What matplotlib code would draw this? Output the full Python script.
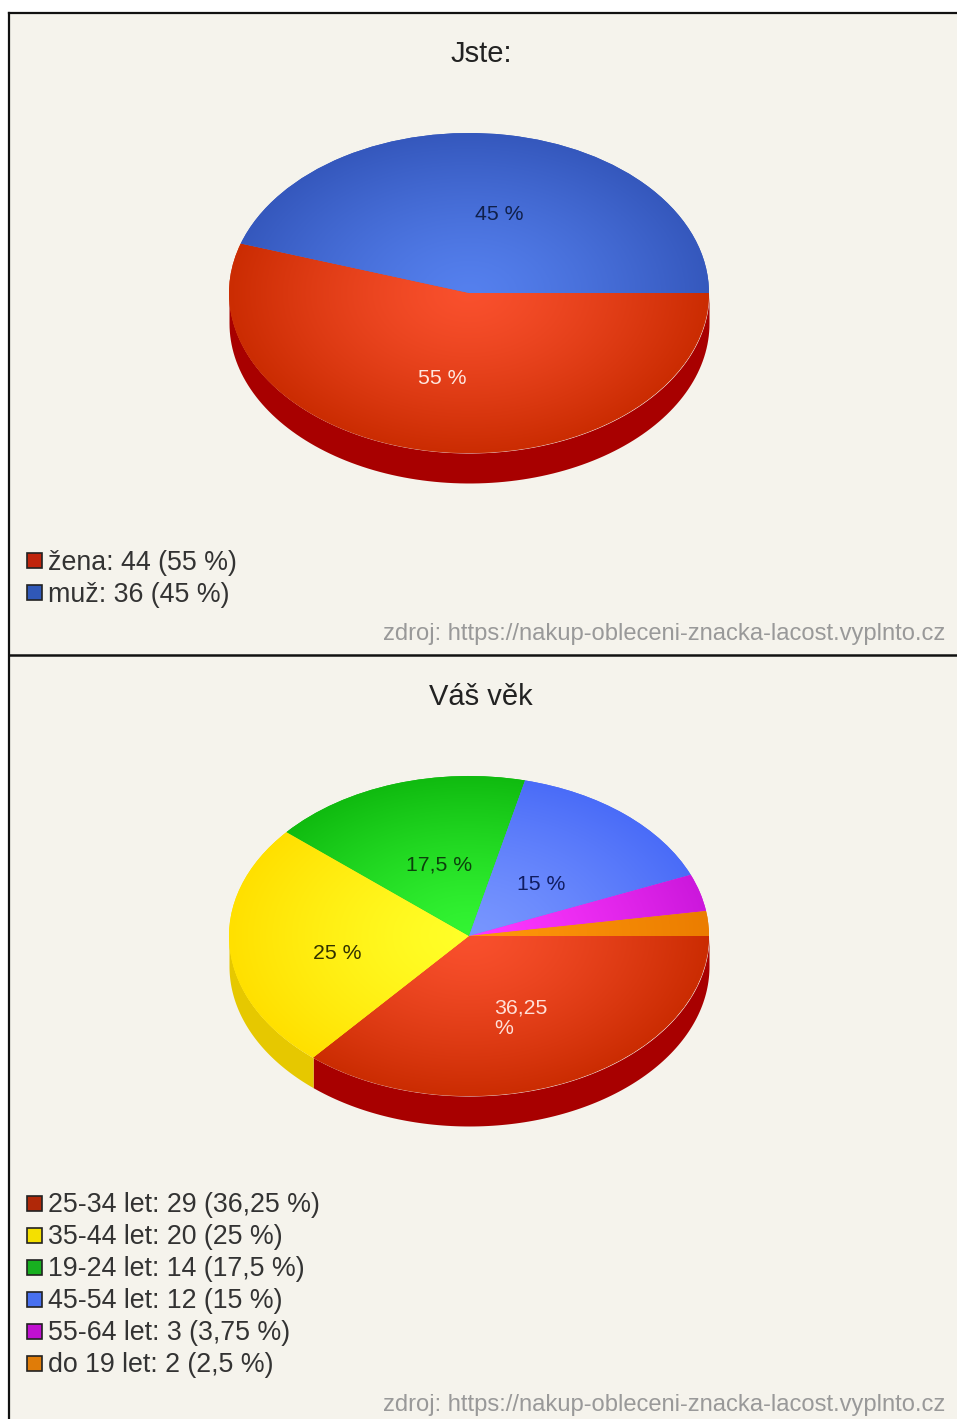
#!/usr/bin/env python3
# -*- coding: utf-8 -*-
import numpy as np
import matplotlib
matplotlib.use("Agg")
import matplotlib.pyplot as plt
from matplotlib.patches import Rectangle

plt.rcParams['font.family'] = ['Liberation Sans', 'DejaVu Sans']

# donnees
titre_1 = "Jste:"
noms_1 = ["žena", "muž"]
valeurs_1 = [44, 36]

titre_2 = "Váš věk"
noms_2 = ["25-34 let", "35-44 let", "19-24 let", "45-54 let", "55-64 let", "do 19 let"]
valeurs_2 = [29, 20, 14, 12, 3, 2]

source = "zdroj: https://nakup-obleceni-znacka-lacost.vyplnto.cz"

# couleurs : centre, bord, cote
rouge = ("#f9502d", "#cb2c02", "#a80000")
bleu_fonce = ("#5580ee", "#3558bd", "#2a4aa0")
jaune = ("#ffff28", "#ffe000", "#e6c800")
vert = ("#33f533", "#10bb10", "#0c900c")
bleu = ("#7896ff", "#4a6cf8", "#3a55c0")
violet = ("#ff38ff", "#cc18dc", "#a010b0")
orange = ("#ff960a", "#eb7d00", "#c06000")

couleurs_1 = [rouge, bleu_fonce]
couleurs_2 = [rouge, jaune, vert, bleu, violet, orange]

carres_1 = ["#c0240c", "#3058b8"]
carres_2 = ["#b02808", "#f4e000", "#18b020", "#4870f0", "#c010d0", "#e07c08"]

# position des etiquettes, en pixels depuis le centre de la tarte
pos_1 = [(-27, 85), (30, -79)]
pos_2 = [(52, 82), (-132, 18), (-30, -71), (72, -51), None, None]
coul_txt_1 = ["#ffe8e0", "#10204a"]
coul_txt_2 = ["#ffe0d8", "#303000", "#0c400c", "#101c60", "k", "k"]

FOND = "#f5f3ec"
W, H = 957, 1419
RX, RY, EP = 240, 160, 30


def pct(v, total):
    return f"{100 * v / total:g}".replace(".", ",")


def degrade(c1, c2):
    c1 = np.array(matplotlib.colors.to_rgb(c1))
    c2 = np.array(matplotlib.colors.to_rgb(c2))
    xx, yy = np.meshgrid(np.linspace(-1, 1, 300), np.linspace(1, -1, 300))
    r = np.clip(np.hypot(xx, yy), 0, 1)[..., None] ** 1.3
    return c1 + (c2 - c1) * r


def tarte(fig, cx, cy, valeurs, couleurs, positions, coul_txt):
    ax = fig.add_axes([(cx - RX) / W, 1 - (cy + RY + EP) / H, 2 * RX / W, (2 * RY + EP) / H])
    ep = EP / RY
    total = sum(valeurs)

    # cote de la tarte
    bornes = np.cumsum([0] + valeurs) / total * -360.0
    for i, c in enumerate(couleurs):
        a = max(bornes[i + 1], -180.0)
        b = bornes[i]
        if a >= b:
            continue
        th = np.radians(np.linspace(a, b, 120))
        ax.fill_between(np.cos(th), np.sin(th) - ep, np.sin(th), color=c[2], lw=0)

    wedges, _ = ax.pie(valeurs, colors=[c[1] for c in couleurs], startangle=0,
                       counterclock=False, radius=1, center=(0, 0),
                       wedgeprops={'linewidth': 0})
    for w, c in zip(wedges, couleurs):
        im = ax.imshow(degrade(c[0], c[1]), extent=(-1, 1, -1, 1), aspect='auto', zorder=2)
        im.set_clip_path(w)

    ax.set_aspect('auto')
    ax.set_xlim(-1, 1)
    ax.set_ylim(-1 - ep, 1)
    ax.axis('off')

    for v, p, c in zip(valeurs, positions, coul_txt):
        if p is None:
            continue
        s = pct(v, total)
        txt = f"{s} %" if len(s) < 5 else f"{s}\n%"
        ax.text(p[0] / RX, -p[1] / RY, txt, fontsize=15.3, color=c, ha='center', va='center',
                multialignment='left', linespacing=1.1, zorder=5)


def legende(bg, y0, noms, valeurs, carres):
    total = sum(valeurs)
    for i, (n, v, c) in enumerate(zip(noms, valeurs, carres)):
        y = y0 + i * 32
        bg.add_patch(Rectangle((26.5, y - 8), 15, 15, facecolor=c, edgecolor="#222222", lw=1.2))
        bg.text(48, y + 1.5, f"{n}: {v} ({pct(v, total)} %)", fontsize=19.3, color="#333333",
                ha='left', va='center')


fig = plt.figure(figsize=(W / 100, H / 100), dpi=100, facecolor="white")
bg = fig.add_axes([0, 0, 1, 1])
bg.set_xlim(0, W)
bg.set_ylim(H, 0)
bg.axis('off')

# cadres
bg.add_patch(Rectangle((9, 13), W - 9, H - 13, facecolor=FOND, edgecolor="none"))
bg.plot([9, W], [13, 13], color="#111111", lw=1.6)
bg.plot([9, W], [655, 655], color="#111111", lw=1.8)
bg.plot([9, 9], [13, H], color="#111111", lw=1.6)

bg.text(481, 54, titre_1, fontsize=21, color="#222222", ha='center', va='center')
bg.text(481, 697, titre_2, fontsize=21, color="#222222", ha='center', va='center')

legende(bg, 561, noms_1, valeurs_1, carres_1)
legende(bg, 1204, noms_2, valeurs_2, carres_2)

bg.text(945, 634, source, fontsize=17.1, color="#999999", ha='right', va='center')
bg.text(945, 1405, source, fontsize=17.1, color="#999999", ha='right', va='center')

tarte(fig, 469, 293, valeurs_1, couleurs_1, pos_1, coul_txt_1)
tarte(fig, 469, 936, valeurs_2, couleurs_2, pos_2, coul_txt_2)

fig.savefig("out.png", dpi=100, facecolor="white")
